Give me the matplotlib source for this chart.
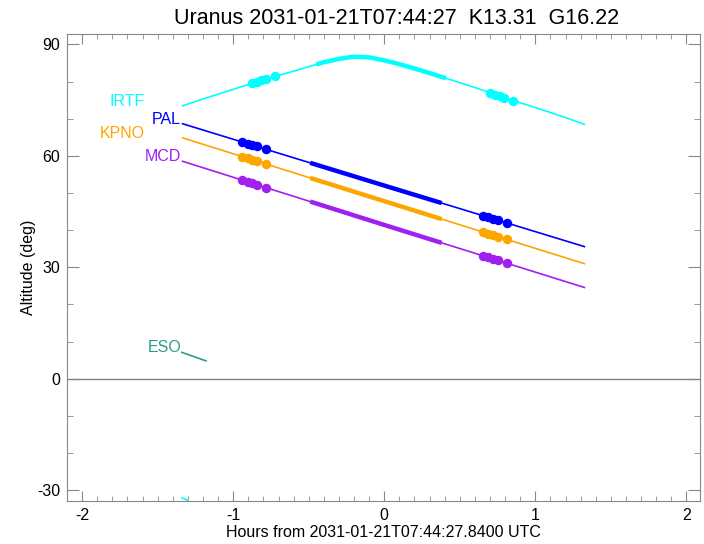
import numpy as np
import matplotlib
matplotlib.use("Agg")
import matplotlib.pyplot as plt
from matplotlib.ticker import MultipleLocator

plt.rcParams['font.family'] = ['Liberation Sans', 'DejaVu Sans']
plt.rcParams['axes.unicode_minus'] = False

# hours from reference time / altitude (deg)
irtf_t = [-1.34, -1.2, -1.0, -0.8, -0.6, -0.5, -0.4, -0.3, -0.2, -0.1, 0.0, 0.1, 0.2, 0.3, 0.4, 0.6, 0.8, 1.0, 1.2, 1.33]
irtf_alt = [73.4, 75.3, 77.9, 80.5, 82.8, 84.0, 85.2, 86.1, 86.7, 86.5, 85.7, 84.7, 83.5, 82.3, 81.0, 78.4, 75.6, 73.0, 70.3, 68.4]
line_t = [-1.34, 0.0, 1.33]
pal_alt = [68.7, 52.0, 35.5]
kpno_alt = [64.9, 47.8, 30.9]
mcd_alt = [58.6, 41.4, 24.5]
eso_t = [-1.34, -1.18]
eso_alt = [7.1, 4.8]
irtf_low_t = [-1.34, -1.30]
irtf_low_alt = [-32.1, -32.7]

# dark window (thick part) and observation times (dots)
dark_window = [-0.49, 0.38]
irtf_window = [-0.45, 0.41]
obs_t = [-0.94, -0.905, -0.875, -0.845, -0.785, 0.655, 0.69, 0.72, 0.75, 0.81]
irtf_obs_t = [-0.875, -0.845, -0.815, -0.785, -0.72, 0.70, 0.735, 0.765, 0.795, 0.855]

title = "Uranus 2031-01-21T07:44:27  K13.31  G16.22"
xlabel = "Hours from 2031-01-21T07:44:27.8400 UTC"

fig = plt.figure(figsize=(7.04, 5.44), dpi=100)
ax = fig.add_axes([0.0952, 0.0785, 0.8991, 0.859])

def station(t, alt, obs, window, color, name, lab_x):
    t = np.asarray(t, float)
    alt = np.asarray(alt, float)
    ax.plot(t, alt, color=color, lw=1.2, solid_capstyle='butt')
    tt = np.linspace(window[0], window[1], 60)
    ax.plot(tt, np.interp(tt, t, alt), color=color, lw=3.2, solid_capstyle='butt')
    ax.plot(obs, np.interp(obs, t, alt), 'o', color=color, ms=6.8, mec='none')
    ax.text(lab_x, alt[0], name, color=color, fontsize=11.5, ha='right', va='baseline')

station(irtf_t, irtf_alt, irtf_obs_t, irtf_window, '#00ffff', 'IRTF', -1.585)
station(line_t, pal_alt, obs_t, dark_window, '#0000ff', 'PAL', -1.345)
station(line_t, kpno_alt, obs_t, dark_window, '#ffa500', 'KPNO', -1.585)
station(line_t, mcd_alt, obs_t, dark_window, '#a020f0', 'MCD', -1.345)

ax.plot(eso_t, eso_alt, color='#2e9a8c', lw=1.2)
ax.text(-1.345, eso_alt[0], 'ESO', color='#2e9a8c', fontsize=11.5, ha='right', va='baseline')
ax.plot(irtf_low_t, irtf_low_alt, color='#00ffff', lw=1.2)

ax.axhline(0, color='#808080', lw=1)

ax.set_xlim(-2.1, 2.09)
ax.set_ylim(-33, 92.8)
ax.xaxis.set_major_locator(MultipleLocator(1))
ax.xaxis.set_minor_locator(MultipleLocator(0.1))
ax.yaxis.set_major_locator(MultipleLocator(30))
ax.yaxis.set_minor_locator(MultipleLocator(10))
ax.tick_params(which='both', direction='in', top=True, right=True, color='#888888', labelsize=11.5, pad=5)
ax.tick_params(axis='x', which='major', length=7.2)
ax.tick_params(axis='x', which='minor', length=3.6)
ax.tick_params(axis='y', which='major', length=8.8)
ax.tick_params(axis='y', which='minor', length=4.4)
for s in ax.spines.values():
    s.set_color('#888888')

ax.set_xlabel(xlabel, fontsize=11.5, labelpad=1)
ax.set_ylabel('Altitude (deg)', fontsize=11.5, labelpad=1)
fig.text(397 / 704, 1 - 18 / 544, title, fontsize=15.5, ha='center', va='center')

fig.savefig('out.png', dpi=100)
